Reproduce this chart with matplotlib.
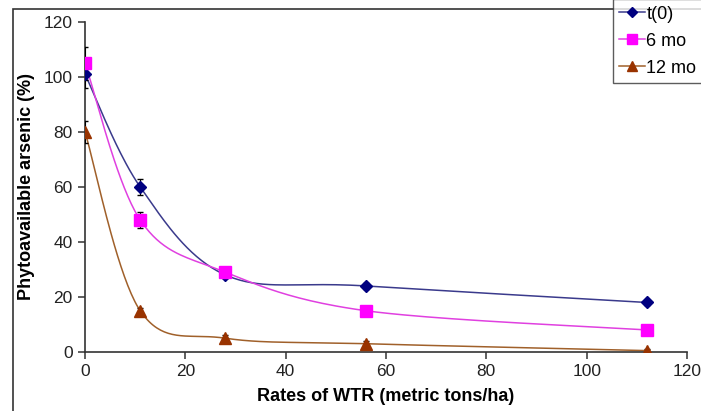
import numpy as np
import matplotlib.pyplot as plt
from matplotlib.patches import Rectangle

plt.rcParams['font.family'] = ['Liberation Sans', 'DejaVu Sans']

rates = [0, 11, 28, 56, 112]
t0 = [101, 60, 28, 24, 18]
t0_err = [5, 3, 1, 1, 1]
mo6 = [105, 48, 29, 15, 8]
mo6_err = [6, 3, 1, 1, 1]
mo12 = [80, 15, 5, 3, 0.5]
mo12_err = [4, 1, 1, 1, 0.5]


def smooth(x, y, n=40):
    # excel style smoothed line (catmull-rom through the points)
    x = np.asarray(x, float)
    y = np.asarray(y, float)
    px = np.concatenate([[x[0]], x, [x[-1]]])
    py = np.concatenate([[y[0]], y, [y[-1]]])
    xs, ys = [], []
    for i in range(1, len(px) - 2):
        t = np.linspace(0, 1, n)
        p0, p1, p2, p3 = [np.array([px[j], py[j]]) for j in range(i - 1, i + 3)]
        c1 = p1 + (p2 - p0) / 6
        c2 = p2 - (p3 - p1) / 6
        pts = ((1 - t) ** 3)[:, None] * p1 + (3 * (1 - t) ** 2 * t)[:, None] * c1 \
            + (3 * (1 - t) * t ** 2)[:, None] * c2 + (t ** 3)[:, None] * p2
        xs.extend(pts[:, 0])
        ys.extend(pts[:, 1])
    return xs, ys


fig = plt.figure(figsize=(7.01, 4.11), dpi=100)
ax = fig.add_axes([0.1213, 0.1436, 0.8587, 0.8029])

series = [
    ('t(0)', t0, t0_err, '#000080', '#3a3a8c', 'D', 6.5),
    ('6 mo', mo6, mo6_err, '#ff00ff', '#e040e0', 's', 8.5),
    ('12 mo', mo12, mo12_err, '#993300', '#a0602a', '^', 8.5),
]
handles = []
for name, vals, err, mc, lc, mk, ms in series:
    sx, sy = smooth(rates, vals)
    ax.plot(sx, sy, color=lc, lw=1.1, zorder=2)
    ax.errorbar(rates, vals, yerr=err, fmt='none', ecolor='black', elinewidth=0.8,
                capsize=2.5, zorder=3)
    ax.plot(rates, vals, ls='none', marker=mk, ms=ms, color=mc, zorder=4)
    h, = ax.plot([], [], color=lc, lw=1.1, marker=mk, ms=ms - 1, mfc=mc, mec=mc)
    handles.append((h, name))

ax.set_xlim(0, 120)
ax.set_ylim(0, 120)
ax.set_xticks(range(0, 121, 20))
ax.set_yticks(range(0, 121, 20))
for s in ['top', 'right']:
    ax.spines[s].set_visible(False)
for s in ['left', 'bottom']:
    ax.spines[s].set_color('#333333')
    ax.spines[s].set_linewidth(1.2)
ax.tick_params(direction='out', length=5, width=1.1, color='#333333',
               labelsize=12.5, labelcolor='#222222', pad=4)
ax.set_xlabel('Rates of WTR (metric tons/ha)', fontsize=13, fontweight='bold', labelpad=6)
ax.set_ylabel('Phytoavailable arsenic (%)', fontsize=13, fontweight='bold', labelpad=6)
ax.patch.set_alpha(0)

leg = fig.legend([h for h, _ in handles], [n for _, n in handles],
                 loc='lower left', bbox_to_anchor=(613 / 701, (411 - 83) / 411),
                 fontsize=13, frameon=True, fancybox=False, handlelength=1.4,
                 handletextpad=0.1, borderpad=0.35, labelspacing=0.55,
                 borderaxespad=0)
leg.get_frame().set_edgecolor('#333333')
leg.get_frame().set_linewidth(1.0)

fig.patches.append(Rectangle((13 / 701, -0.05), 1.0, (411 - 9) / 411 + 0.05,
                             transform=fig.transFigure, fill=False,
                             edgecolor='#333333', lw=1.2, zorder=0))

fig.savefig('out.png', dpi=100)
